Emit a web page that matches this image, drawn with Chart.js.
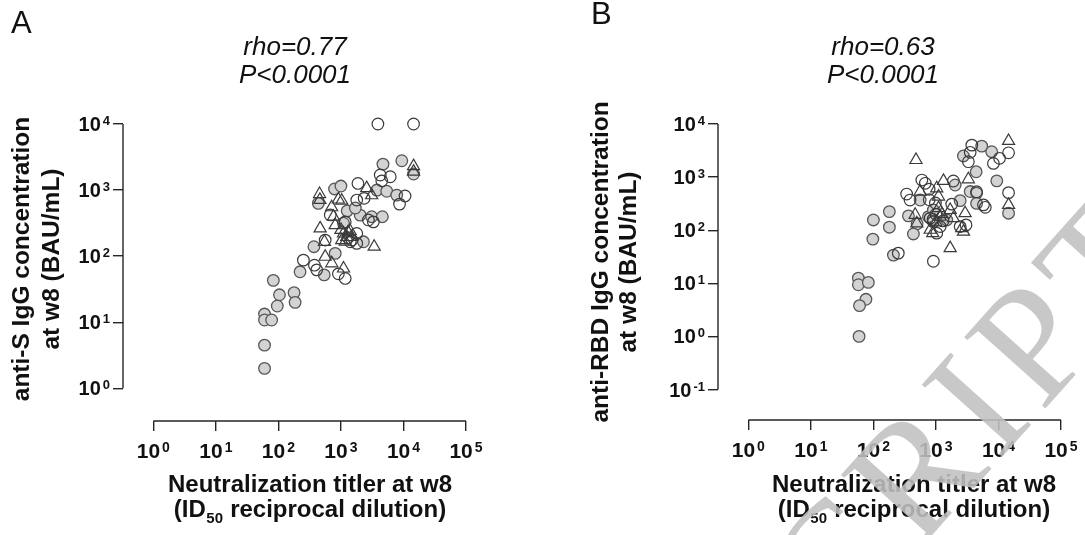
<!DOCTYPE html>
<html>
<head>
<meta charset="utf-8">
<script src="https://cdn.jsdelivr.net/npm/chart.js@4.4.1/dist/chart.umd.min.js"></script>
<style>
  body { margin: 0; background: #fff; width: 1085px; height: 535px; overflow: hidden; position: relative; }
  canvas { position: absolute; top: 0; }
  #panelA { left: 0; }
  #panelB { left: 540px; }
</style>
</head>
<body>
<canvas id="panelA" width="540" height="535"></canvas>
<canvas id="panelB" width="545" height="535"></canvas>
<script>
// ticks (powers of ten)
const xTicks = [1, 10, 100, 1000, 10000, 100000];
const yTicksA = [1, 10, 100, 1000, 10000];
const yTicksB = [0.1, 1, 10, 100, 1000, 10000];

const titleA = ['rho=0.77', 'P<0.0001'];
const titleB = ['rho=0.63', 'P<0.0001'];
const yTitleA = ['anti-S IgG concentration', 'at w8 (BAU/mL)'];
const yTitleB = ['anti-RBD IgG concentration', 'at w8 (BAU/mL)'];
const xTitle1 = 'Neutralization titler at w8';
const xTitle2 = ['(ID', '50', ' reciprocal dilution)'];

// panel A: anti-S IgG vs neutralization titre
const sGreyX = [9400, 4700, 14500, 3760, 5400, 7800, 790, 1000, 435, 1260, 2030, 3100, 4600, 1100, 2290, 370, 810, 222, 540, 83, 104, 96, 178, 185, 60, 60, 78, 60, 60, 1700];
const sGreyY = [2780, 2470, 1750, 1000, 960, 840, 1040, 1150, 630, 485, 418, 395, 395, 315, 165, 139, 110, 58, 52, 43, 26, 17.6, 28, 20, 13.3, 10.8, 10.8, 4.5, 2.0, 535];
const sOpenX = [3900, 14500, 4250, 6150, 4500, 10600, 8650, 1870, 2350, 1790, 2750, 3300, 1410, 1790, 1790, 251, 377, 410, 910, 1170, 1170, 675, 560, 1300, 1500];
const sOpenY = [10000, 10000, 1690, 1590, 1380, 815, 613, 1260, 750, 706, 353, 330, 165, 156, 220, 87, 73, 62, 54, 46, 330, 420, 175, 190, 175];
const sTriX = [14500, 14500, 2580, 3100, 455, 460, 910, 1030, 710, 760, 810, 465, 1100, 1240, 1030, 1170, 1490, 3400, 545, 560, 715, 1100, 1400, 1300, 1000];
const sTriY = [2300, 1900, 1070, 835, 870, 710, 720, 690, 550, 396, 295, 263, 220, 195, 175, 166, 195, 139, 165, 98, 78, 65, 240, 230, 250];

// panel B: anti-RBD IgG vs neutralization titre
const rGreyX = [5400, 7800, 2750, 4400, 9400, 2030, 3530, 4470, 560, 4470, 2440, 14500, 180, 100, 180, 363, 500, 436, 98, 209, 760, 910, 1490, 57.5, 57.5, 83, 76, 60, 59];
const rGreyY = [3830, 3010, 2500, 1260, 850, 710, 535, 500, 370, 320, 360, 209, 224, 156, 114, 186, 132, 85, 68, 34, 180, 240, 156, 12.5, 9.4, 10.4, 5.0, 3.8, 1.0];
const rOpenX = [3750, 3530, 14500, 10400, 3300, 8300, 595, 675, 1900, 340, 385, 4470, 14500, 5750, 6150, 1790, 810, 910, 1170, 1030, 2440, 3030, 910, 250, 980, 780, 780, 900, 1000, 1300];
const rOpenY = [4000, 2930, 2870, 2260, 1950, 1810, 880, 765, 845, 480, 370, 530, 510, 300, 270, 310, 169, 145, 117, 88, 117, 126, 26, 37, 325, 590, 375, 160, 200, 150];
const rTriX = [14500, 480, 3300, 1320, 1030, 1100, 14500, 2930, 465, 495, 1100, 1170, 1690, 1900, 810, 890, 2590, 2760, 1690, 560, 1000, 1250];
const rTriY = [4800, 2100, 910, 850, 615, 430, 300, 209, 195, 135, 260, 180, 240, 169, 102, 88, 109, 94, 46, 535, 140, 200];

const FONT = '"Liberation Sans", Arial, Helvetica, sans-serif';
const INK = '#111';
const AXIS = '#262626';

function zip(xs, ys) {
  return xs.map((x, i) => ({ x: x, y: ys[i] }));
}

// "10" with a raised exponent taken from the tick value
function drawPower(ctx, value, x, y, size, align) {
  const exp = String(Math.round(Math.log10(value)));
  const es = Math.round(size * 0.66);
  ctx.font = 'bold ' + size + 'px ' + FONT;
  const wb = ctx.measureText('10').width;
  ctx.font = 'bold ' + es + 'px ' + FONT;
  const we = ctx.measureText(exp).width;
  const gap = 2;
  const total = wb + gap + we;
  const x0 = align === 'center' ? x - total / 2 : x - total;
  ctx.textAlign = 'left';
  ctx.textBaseline = 'alphabetic';
  ctx.font = 'bold ' + size + 'px ' + FONT;
  ctx.fillText('10', x0, y);
  ctx.font = 'bold ' + es + 'px ' + FONT;
  ctx.fillText(exp, x0 + wb + gap, y - size * 0.3);
}

function decor(d) {
  return {
    id: 'decor',
    afterDraw(chart) {
      const ctx = chart.ctx;
      const a = chart.chartArea;
      const xs = chart.scales.x;
      const ys = chart.scales.y;
      ctx.save();

      // detached axis lines, tick to tick
      ctx.strokeStyle = AXIS;
      ctx.lineWidth = 1.4;
      ctx.beginPath();
      ctx.moveTo(a.left, ys.getPixelForValue(d.yTicks[d.yTicks.length - 1]));
      ctx.lineTo(a.left, ys.getPixelForValue(d.yTicks[0]));
      ctx.moveTo(xs.getPixelForValue(xTicks[0]), a.bottom);
      ctx.lineTo(xs.getPixelForValue(xTicks[xTicks.length - 1]), a.bottom);
      ctx.stroke();

      ctx.fillStyle = INK;
      d.yTicks.forEach(v => drawPower(ctx, v, a.left - 13, ys.getPixelForValue(v) + 7, 20, 'right'));
      xTicks.forEach(v => drawPower(ctx, v, xs.getPixelForValue(v), a.bottom + 37, 21, 'center'));

      // panel letter
      ctx.font = '31px ' + FONT;
      ctx.textAlign = 'left';
      ctx.fillText(d.letter, d.letterX, d.letterY);

      // correlation title
      ctx.font = 'italic 26px ' + FONT;
      ctx.textAlign = 'center';
      ctx.fillText(d.title[0], d.titleX, 55);
      ctx.fillText(d.title[1], d.titleX, 83);

      // x axis title, second line with subscript
      ctx.font = 'bold 24px ' + FONT;
      ctx.fillText(xTitle1, d.xTitleX, 492);
      const w1 = ctx.measureText(xTitle2[0]).width;
      const w3 = ctx.measureText(xTitle2[2]).width;
      ctx.font = 'bold 15px ' + FONT;
      const w2 = ctx.measureText(xTitle2[1]).width + 1;
      let x0 = d.xTitleX - (w1 + w2 + w3) / 2;
      ctx.textAlign = 'left';
      ctx.font = 'bold 24px ' + FONT;
      ctx.fillText(xTitle2[0], x0, 517);
      ctx.font = 'bold 15px ' + FONT;
      ctx.fillText(xTitle2[1], x0 + w1 + 0.5, 523);
      ctx.font = 'bold 24px ' + FONT;
      ctx.fillText(xTitle2[2], x0 + w1 + w2, 517);

      // y axis title, rotated
      ctx.save();
      ctx.translate(0, d.yTitleY);
      ctx.rotate(-Math.PI / 2);
      ctx.textAlign = 'center';
      ctx.textBaseline = 'middle';
      ctx.font = 'bold 24.5px ' + FONT;
      ctx.fillText(d.yTitle[0], 0, d.yTitleX[0]);
      ctx.fillText(d.yTitle[1], 0, d.yTitleX[1]);
      ctx.restore();

      // manuscript watermark
      if (d.watermark) {
        ctx.save();
        ctx.translate(d.watermark.x, d.watermark.y);
        ctx.rotate(d.watermark.angle);
        ctx.font = '165px "Liberation Serif", "DejaVu Serif", serif';
        ctx.letterSpacing = '10px';
        ctx.fillStyle = 'rgba(192,192,192,0.88)';
        ctx.textAlign = 'left';
        ctx.textBaseline = 'alphabetic';
        ctx.fillText(d.watermark.text, 0, 0);
        ctx.restore();
      }
      ctx.restore();
    }
  };
}

function makePanel(id, g, grey, open, tri, d) {
  const axis = (ticks, lo, hi, tl) => ({
    type: 'logarithmic',
    bounds: 'data',
    min: Math.pow(10, lo),
    max: Math.pow(10, hi),
    afterBuildTicks: s => { s.ticks = ticks.map(v => ({ value: v })); },
    ticks: { display: false },
    border: { display: false },
    grid: { drawOnChartArea: false, drawTicks: true, tickLength: tl, color: AXIS, lineWidth: 1.4 }
  });
  const xAxis = axis(xTicks, g.xLo, 5, 10);
  xAxis.afterFit = s => { s.height = g.xh; };
  const yAxis = axis(d.yTicks, g.yLo, 4, 10);
  yAxis.afterFit = s => { s.width = g.yw; };

  new Chart(document.getElementById(id), {
    type: 'scatter',
    data: {
      datasets: [
        { label: 'grey', data: grey, order: 3, clip: false, pointStyle: 'circle', pointRadius: 5.8,
          backgroundColor: '#d3d3d3', borderColor: '#575757', borderWidth: 1.3 },
        { label: 'open', data: open, order: 2, clip: false, pointStyle: 'circle', pointRadius: 5.8,
          backgroundColor: 'rgba(0,0,0,0)', borderColor: '#3a3a3a', borderWidth: 1.2 },
        { label: 'triangle', data: tri, order: 1, clip: false, pointStyle: 'triangle', pointRadius: 7,
          backgroundColor: 'rgba(0,0,0,0)', borderColor: '#3a3a3a', borderWidth: 1.2 }
      ]
    },
    options: {
      responsive: false,
      animation: false,
      events: [],
      layout: { padding: { left: 0, top: g.top, right: g.right, bottom: 0 } },
      plugins: { legend: { display: false }, tooltip: { enabled: false } },
      scales: { x: xAxis, y: yAxis }
    },
    plugins: [decor(d)]
  });
}

makePanel('panelA',
  { top: 124, right: 74, yw: 123, xh: 114, xLo: -0.485, yLo: -0.495 },
  zip(sGreyX, sGreyY), zip(sOpenX, sOpenY), zip(sTriX, sTriY),
  { yTicks: yTicksA, letter: 'A', letterX: 11, letterY: 33, title: titleA, titleX: 295,
    xTitleX: 310, yTitle: yTitleA, yTitleX: [22, 52], yTitleY: 259 });

makePanel('panelB',
  { top: 124, right: 24, yw: 178, xh: 115, xLo: -0.485, yLo: -1.574 },
  zip(rGreyX, rGreyY), zip(rOpenX, rOpenY), zip(rTriX, rTriY),
  { yTicks: yTicksB, letter: 'B', letterX: 51, letterY: 24, title: titleB, titleX: 343,
    xTitleX: 374, yTitle: yTitleB, yTitleX: [61, 89], yTitleY: 262,
    watermark: { text: 'CRIPT', x: 298, y: 640, angle: -0.84 } });
</script>
</body>
</html>
